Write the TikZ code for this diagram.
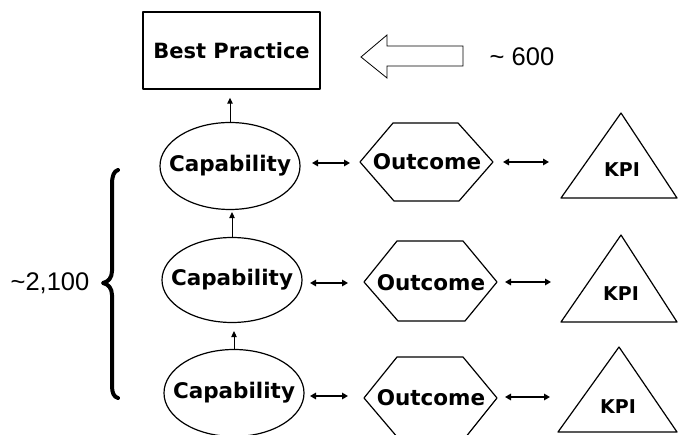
\documentclass[tikz,border=0pt]{standalone}
\usepackage{fontspec}
\setmainfont{DejaVu Sans}
\newfontfamily\numfont{Liberation Sans}
\usetikzlibrary{arrows.meta,shapes.geometric}
\begin{document}
\begin{tikzpicture}[x=1pt,y=-1pt,
  lbl/.style={font=\bfseries\fontsize{21.5}{23}\selectfont, inner sep=0pt},
  kpi/.style={font=\bfseries\fontsize{19}{21}\selectfont, inner sep=0pt},
  shp/.style={draw=black, line width=1.2pt, line join=round},
  capell/.style={shp, ellipse, minimum width=140pt, minimum height=87pt, inner sep=0pt},
  dbl/.style={{Triangle[length=6pt,width=6.5pt]}-{Triangle[length=6pt,width=6.5pt]}, line width=1.6pt},
  up/.style={-{Triangle[length=6pt,width=5.5pt]}, line width=1pt},
  num/.style={font=\numfont\fontsize{25.5}{28}\selectfont, inner sep=0pt}]
\useasboundingbox (0,0) rectangle (678,435);

% Best practice box
\node[shp, line width=1.5pt, minimum width=177pt, minimum height=77pt, inner sep=0pt,
      font=\bfseries\fontsize{21}{23}\selectfont] (bp) at (231.5,50.5) {Best Practice};

% hollow arrow
\draw[line width=0.8pt, line join=miter] (463,46) -- (387,46) -- (387,35) -- (361,57) -- (387,78) -- (387,66) -- (463,66) -- cycle;
\node[num] (n600) at (522,57) {\textasciitilde{} 600};

% capability ellipses
\node[capell, label={[lbl]center:Capability}] (e1) at (230,166) {};
\node[capell, minimum height=85pt, label={[lbl]center:Capability}] (e2) at (232,280) {};
\node[capell, label={[lbl]center:Capability}] (e3) at (234,393) {};

% vertical arrows
\draw[up, shorten >=8pt] (e1.north) -- (e1.north |- bp.south);
\draw[up, shorten >=2pt] (e2.north) -- (e2.north |- e1.south);
\draw[up, shorten >=8pt] (e3.north) -- (e3.north |- e2.south);

% hexagons
\draw[shp] (360,162) -- (393,123) -- (458,123) -- (493,162) -- (459,201) -- (394,201) -- cycle;
\node[lbl] (o1) at (427,162) {Outcome};
\draw[shp] (364,282) -- (397,241) -- (463,241) -- (497,282) -- (465,321) -- (398,321) -- cycle;
\node[lbl] (o2) at (431,283) {Outcome};
\draw[shp] (364,398) -- (397,357) -- (463,357) -- (497,398) -- (465,438) -- (398,438) -- cycle;
\node[lbl] (o3) at (431,398) {Outcome};

% triangles
\draw[shp] (621,113) -- (677,198) -- (561,198) -- cycle;
\node[kpi] (k1) at (622,170) {KPI};
\draw[shp] (621,235) -- (677,322) -- (561,322) -- cycle;
\node[kpi] (k2) at (621,294) {KPI};
\draw[shp] (619,347) -- (677,432) -- (558,432) -- cycle;
\node[kpi] (k3) at (618,407) {KPI};

% double arrows
\coordinate (a1s) at (312,163); \coordinate (a1e) at (350,163);
\coordinate (b1s) at (503,162); \coordinate (b1e) at (549,162);
\coordinate (a2s) at (310,283); \coordinate (a2e) at (348,283);
\coordinate (b2s) at (505,282); \coordinate (b2e) at (551,282);
\coordinate (a3s) at (310,396); \coordinate (a3e) at (348,396);
\coordinate (b3s) at (505,397); \coordinate (b3e) at (550,397);
\draw[dbl] (a1s) -- (a1e);
\draw[dbl] (b1s) -- (b1e);
\draw[dbl] (a2s) -- (a2e);
\draw[dbl] (b2s) -- (b2e);
\draw[dbl] (a3s) -- (a3e);
\draw[dbl] (b3s) -- (b3e);

% brace
\draw[line width=4pt, line cap=round, line join=round]
  (118,170) .. controls (114,171) and (112,176) .. (112,184) -- (112,271)
  .. controls (112,278) and (108,282) .. (103,283)
  .. controls (108,284) and (112,288) .. (112,295) -- (112,386)
  .. controls (112,393) and (114,397) .. (118,398);
\node[num] (n2100) at (50,283) {\textasciitilde{}2,100};
\end{tikzpicture}
\end{document}
